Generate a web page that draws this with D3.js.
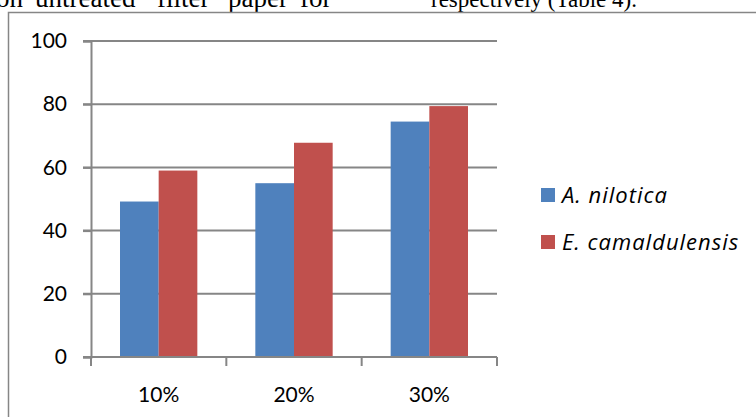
<!DOCTYPE html>
<html>
<head>
<meta charset="utf-8">
<script src="https://cdn.jsdelivr.net/npm/d3@7"></script>
<style>
  html, body { margin: 0; padding: 0; background: #fff; overflow: hidden; }
  svg { display: block; }
</style>
</head>
<body>
<svg id="chart" width="756" height="417"></svg>
<script>
// Data
const categories = ["10%", "20%", "30%"];
const seriesNames = ["A. nilotica", "E. camaldulensis"];
const aNilotica = [49.2, 55.0, 74.5];
const eCamaldulensis = [59.0, 67.8, 79.4];
const yTicks = [0, 20, 40, 60, 80, 100];
const seriesColors = ["#4F81BD", "#C0504D"];

const values = [aNilotica, eCamaldulensis];

const svg = d3.select("#chart");

// Running text above the figure (justified line, clipped at the top edge)
const serif = "'Liberation Serif', 'Times New Roman', serif";
const lineWords = [["on", -4], ["untreated", 35], ["filter", 157], ["paper", 228], ["for", 300]];
const line1 = svg.append("text")
  .attr("y", 7)
  .attr("font-family", serif)
  .attr("font-size", 27)
  .attr("fill", "#000");
line1.selectAll("tspan")
  .data(lineWords)
  .join("tspan")
  .attr("x", d => d[1])
  .text(d => d[0]);
svg.append("text")
  .attr("x", 431).attr("y", 7)
  .attr("font-family", serif)
  .attr("font-size", 23)
  .attr("fill", "#000")
  .text("respectively (Table 4).");

// Chart area frame
svg.append("rect")
  .attr("x", 8.5).attr("y", 12.5)
  .attr("width", 800).attr("height", 500)
  .attr("fill", "#fff")
  .attr("stroke", "#868686")
  .attr("stroke-width", 1.5);

const plot = { left: 91, right: 497, top: 41, bottom: 357 };

const x0 = d3.scaleBand().domain(categories).range([plot.left, plot.right]).padding(0);
const bw = x0.bandwidth();
const gap = 0.75; // gap between groups, as a fraction of one bar group
const groupW = bw / (1 + gap);
const x1 = d3.scaleBand().domain(seriesNames)
  .range([(bw - groupW) / 2, (bw + groupW) / 2]).padding(0);
const y = d3.scaleLinear().domain([0, 100]).range([plot.bottom, plot.top]);

const gridColor = "#868686";

// Horizontal gridlines
svg.append("g")
  .selectAll("line")
  .data(yTicks)
  .join("line")
  .attr("x1", plot.left - 8).attr("x2", plot.right)
  .attr("y1", d => y(d)).attr("y2", d => y(d))
  .attr("stroke", gridColor).attr("stroke-width", 2);

// Bars
const fontUI = "Lato, 'Open Sans', sans-serif";
const groups = svg.append("g")
  .selectAll("g")
  .data(categories)
  .join("g")
  .attr("transform", c => `translate(${x0(c)},0)`);

groups.selectAll("rect")
  .data((c, i) => seriesNames.map((s, j) => ({ s, j, v: values[j][i] })))
  .join("rect")
  .attr("x", d => x1(d.s))
  .attr("width", x1.bandwidth())
  .attr("y", d => y(d.v))
  .attr("height", d => y(0) - y(d.v))
  .attr("fill", d => seriesColors[d.j]);

// Y axis
const yAxis = svg.append("g")
  .attr("transform", `translate(${plot.left},0)`)
  .call(d3.axisLeft(y).tickValues(yTicks).tickSize(8).tickPadding(16).tickFormat(d3.format("d")));
yAxis.select(".domain").attr("stroke", gridColor).attr("stroke-width", 2);
yAxis.selectAll(".tick line").attr("stroke", gridColor).attr("stroke-width", 2);
yAxis.selectAll("text")
  .attr("font-family", fontUI).attr("font-size", 21).attr("fill", "#000");

// X axis with tick marks on the category boundaries
const xAxisG = svg.append("g").attr("transform", `translate(0,${plot.bottom})`);
xAxisG.append("line")
  .attr("x1", plot.left - 8).attr("x2", plot.right)
  .attr("stroke", gridColor).attr("stroke-width", 2);
const boundaries = categories.map(c => x0(c)).concat([x0(categories[categories.length - 1]) + bw]);
xAxisG.selectAll("line.tick")
  .data(boundaries)
  .join("line")
  .attr("class", "tick")
  .attr("x1", d => d).attr("x2", d => d)
  .attr("y1", 0).attr("y2", 9)
  .attr("stroke", gridColor).attr("stroke-width", 2);
xAxisG.selectAll("text")
  .data(categories)
  .join("text")
  .attr("x", c => x0(c) + bw / 2)
  .attr("y", 45)
  .attr("text-anchor", "middle")
  .attr("font-family", fontUI).attr("font-size", 21).attr("fill", "#000")
  .text(c => c);

// Legend
const legend = svg.append("g").attr("transform", "translate(541,188)");
const item = legend.selectAll("g")
  .data(seriesNames)
  .join("g")
  .attr("transform", (d, i) => `translate(0,${i * 47})`);
item.append("rect")
  .attr("width", 14).attr("height", 14)
  .attr("fill", (d, i) => seriesColors[i]);
item.append("text")
  .attr("x", 21).attr("y", 7)
  .attr("dy", "0.35em")
  .attr("font-family", "'Open Sans', Lato, sans-serif").attr("font-size", 22)
  .attr("letter-spacing", 1)
  .attr("font-style", "italic").attr("fill", "#000")
  .text(d => d);
</script>
</body>
</html>
